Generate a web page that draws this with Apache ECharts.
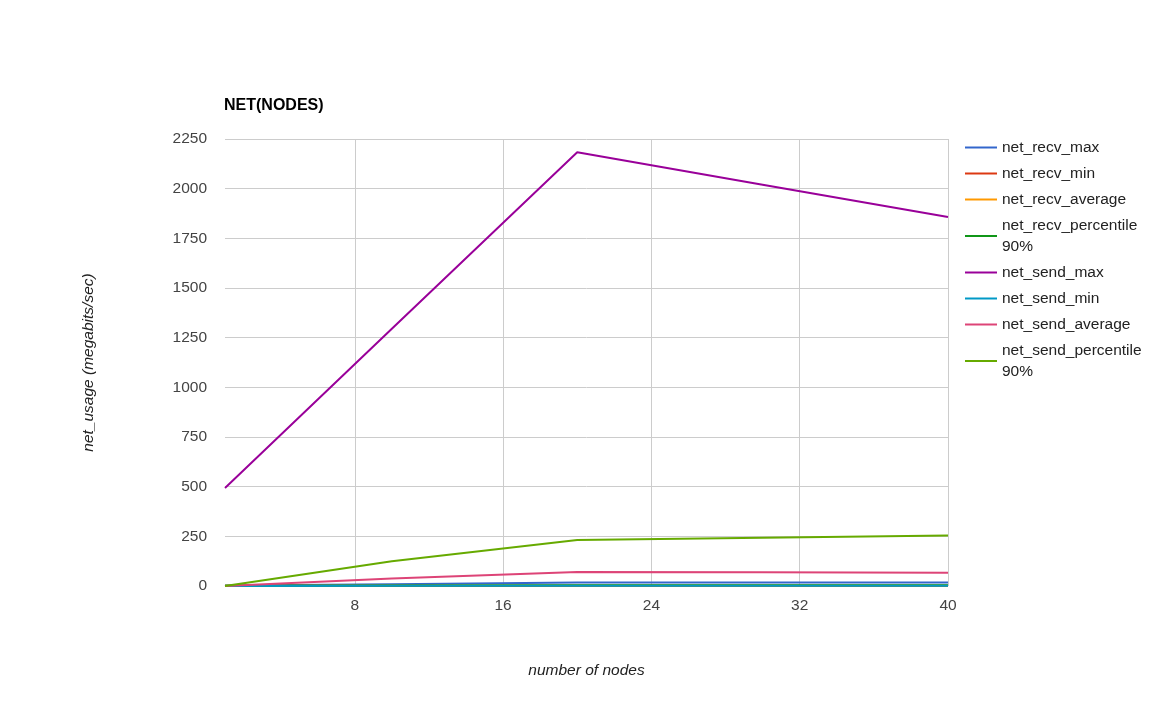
<!DOCTYPE html>
<html>
<head>
<meta charset="utf-8">
<script src="https://cdn.jsdelivr.net/npm/echarts@6/dist/echarts.min.js"></script>
<style>
html,body{margin:0;padding:0;background:#fff;}
#chart{width:1173px;height:725px;}
</style>
</head>
<body>
<div id="chart"></div>
<script>
const nodes = [1, 10, 20, 30, 40];
const seriesNames = ['net_recv_max', 'net_recv_min', 'net_recv_average', 'net_recv_percentile 90%',
  'net_send_max', 'net_send_min', 'net_send_average', 'net_send_percentile 90%'];
const net_recv_max = [2, 9, 18, 18, 17];
const net_recv_min = [0, 0, 0, 0, 0];
const net_recv_average = [1, 2, 3, 3, 3];
const net_recv_percentile90 = [1, 3, 4, 4, 4];
const net_send_max = [493, 1295, 2183, 2020, 1857];
const net_send_min = [0, 1, 1, 1, 1];
const net_send_average = [0, 38, 70, 69, 67];
const net_send_percentile90 = [0, 125, 231, 243, 254];
const yTicks = [0, 250, 500, 750, 1000, 1250, 1500, 1750, 2000, 2250];
const xTicks = [8, 16, 24, 32, 40];

const allData = [net_recv_max, net_recv_min, net_recv_average, net_recv_percentile90,
  net_send_max, net_send_min, net_send_average, net_send_percentile90];
const colors = ['#3366cc', '#dc3912', '#ff9900', '#109618', '#990099', '#0099c6', '#dd4477', '#66aa00'];

const chart = echarts.init(document.getElementById('chart'), null, {renderer: 'canvas'});
const font = '"Liberation Sans", Arial, sans-serif';

chart.setOption({
  animation: false,
  color: colors,
  textStyle: {fontFamily: font},
  title: {
    text: 'NET(NODES)',
    left: 219, top: 93,
    textStyle: {fontFamily: font, fontSize: 16, fontWeight: 'bold', color: '#000'}
  },
  legend: {
    orient: 'vertical',
    left: 960, top: 132,
    itemWidth: 32, itemHeight: 2, itemGap: 5,
    icon: 'rect',
    data: seriesNames,
    formatter: function (name) { return name.replace(' 90%', '\n90%'); },
    textStyle: {fontFamily: font, fontSize: 15.5, color: '#222', lineHeight: 21}
  },
  grid: {left: 225, right: 225, top: 139, bottom: 139, containLabel: false},
  xAxis: {
    type: 'value', min: 1, max: 40,
    name: 'number of nodes', nameLocation: 'middle', nameGap: 77,
    nameTextStyle: {fontFamily: font, fontSize: 15.5, fontStyle: 'italic', color: '#222'},
    axisLine: {show: false},
    axisTick: {show: false, customValues: xTicks},
    axisLabel: {
      customValues: xTicks, margin: 12,
      fontFamily: font, fontSize: 15.5, color: '#444'
    },
    splitLine: {show: true, lineStyle: {color: '#cccccc', width: 1}}
  },
  yAxis: {
    type: 'value', min: yTicks[0], max: yTicks[yTicks.length - 1], interval: 250,
    name: 'net_usage (megabits/sec)', nameLocation: 'middle', nameGap: 128,
    nameTextStyle: {fontFamily: font, fontSize: 15.5, fontStyle: 'italic', color: '#222'},
    axisLine: {show: false}, axisTick: {show: false},
    axisLabel: {fontFamily: font, fontSize: 15.5, color: '#444', margin: 18, formatter: v => String(v)},
    splitLine: {lineStyle: {color: '#cccccc', width: 1}}
  },
  series: seriesNames.map((name, i) => ({
    name: name,
    type: 'line',
    data: nodes.map((x, j) => [x, allData[i][j]]),
    showSymbol: false,
    symbol: 'none',
    lineStyle: {width: 2, color: colors[i]},
    itemStyle: {color: colors[i]},
    z: 2 + i
  }))
});
</script>
</body>
</html>
